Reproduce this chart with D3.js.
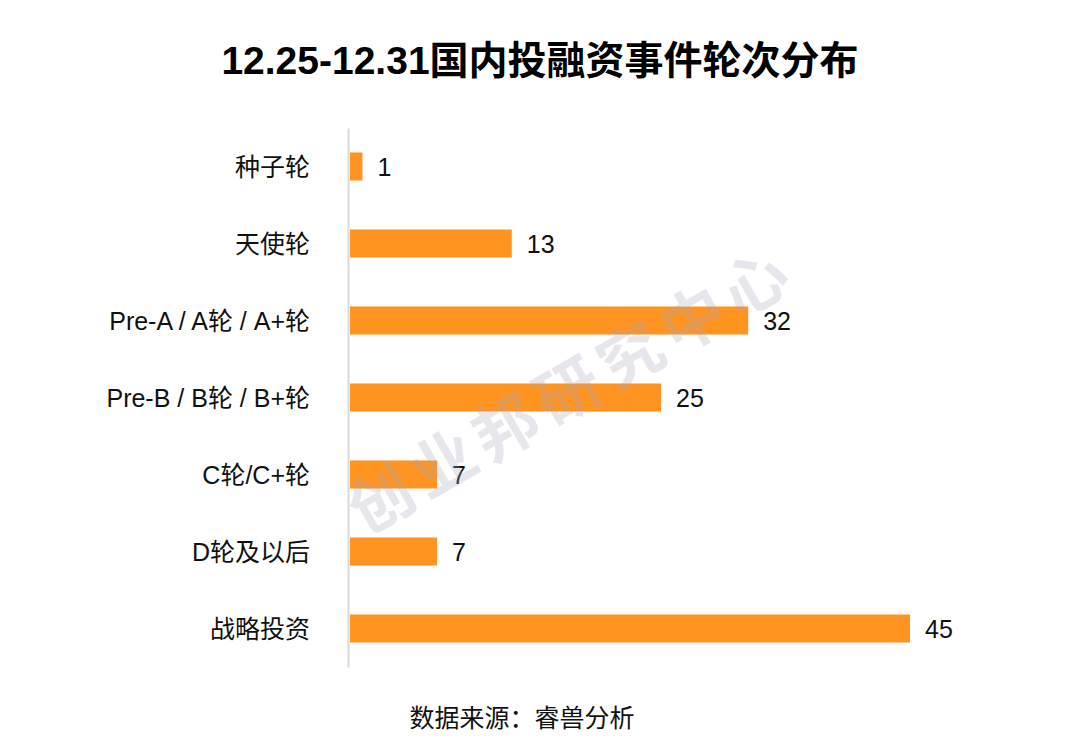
<!DOCTYPE html>
<html>
<head>
<meta charset="utf-8">
<script src="https://cdn.jsdelivr.net/npm/d3@7"></script>
<style>
  body { margin: 0; background: #fff; }
  text { font-family: "Liberation Sans", "Noto Sans CJK SC", sans-serif; }
</style>
</head>
<body>
<div id="chart"></div>
<script>
// data
const categories = ["种子轮", "天使轮", "Pre-A / A轮 / A+轮", "Pre-B / B轮 / B+轮", "C轮/C+轮", "D轮及以后", "战略投资"];
const values = [1, 13, 32, 25, 7, 7, 45];
const titleText = "12.25-12.31国内投融资事件轮次分布";
const sourceText = "数据来源：睿兽分析";
const watermarkText = "创业邦研究中心";

const W = 1080, H = 746;
const margin = {top: 128, left: 350, bottom: 79};

const svg = d3.select("#chart").append("svg")
    .attr("width", W)
    .attr("height", H);

const x = d3.scaleLinear()
    .domain([0, 45])
    .range([margin.left, 910]);

const y = d3.scaleBand()
    .domain(categories)
    .range([margin.top, H - margin.bottom])
    .paddingInner(0.636)
    .paddingOuter(0.318);

// title
svg.append("text")
    .attr("x", 540)
    .attr("y", 74)
    .attr("text-anchor", "middle")
    .style("font-size", "39px")
    .style("font-weight", "bold")
    .text(titleText);

// bars
svg.append("g")
  .selectAll("rect")
  .data(values)
  .join("rect")
    .attr("x", x(0))
    .attr("y", (d, i) => y(categories[i]))
    .attr("width", d => x(d) - x(0))
    .attr("height", y.bandwidth())
    .attr("fill", "#ff9421");

// value labels
svg.append("g")
  .selectAll("text")
  .data(values)
  .join("text")
    .attr("x", d => x(d) + 15)
    .attr("y", (d, i) => y(categories[i]) + y.bandwidth() / 2)
    .attr("dy", "0.36em")
    .style("font-size", "25px")
    .style("fill", "#111")
    .text(d => d);

// category axis
const yAxis = svg.append("g")
    .attr("transform", `translate(${margin.left - 2},0)`)
    .call(d3.axisLeft(y).tickSize(0).tickPadding(38).tickSizeOuter(0));
yAxis.select(".domain")
    .attr("stroke", "#d9d9d9")
    .attr("stroke-width", 2);
yAxis.selectAll("text")
    .attr("dy", "0.36em")
    .style("font-size", "25px")
    .style("fill", "#111")
    .style("font-family", "'Liberation Sans', 'Noto Sans CJK SC', sans-serif");

// watermark
svg.append("text")
    .attr("transform", "translate(572,390) rotate(-30)")
    .attr("text-anchor", "middle")
    .attr("dy", "0.35em")
    .style("font-size", "64px")
    .style("font-weight", "bold")
    .style("letter-spacing", "8px")
    .style("fill", "#a8a8bc")
    .style("opacity", 0.28)
    .text(watermarkText);

// source
svg.append("text")
    .attr("x", 522)
    .attr("y", 727)
    .attr("text-anchor", "middle")
    .style("font-size", "25px")
    .style("fill", "#111")
    .text(sourceText);
</script>
</body>
</html>
